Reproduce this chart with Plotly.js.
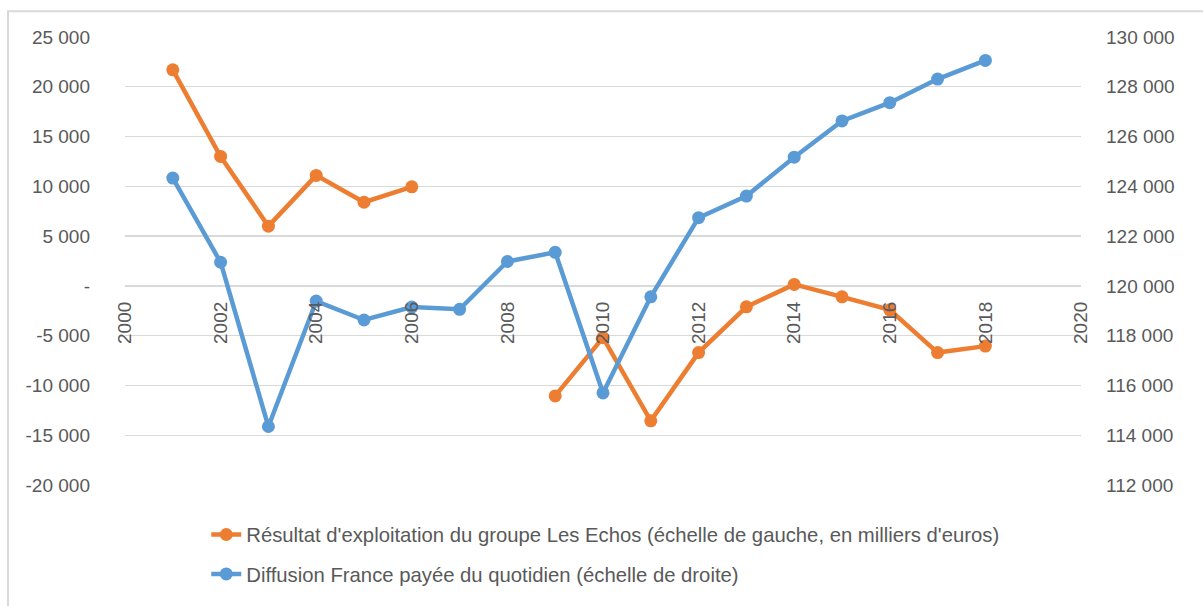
<!DOCTYPE html>
<html>
<head>
<meta charset="utf-8">
<script src="https://cdn.plot.ly/plotly-3.0.1.min.js"></script>
<style>
  html, body { margin: 0; padding: 0; background: #ffffff; }
  #chart { width: 1203px; height: 606px; }
</style>
</head>
<body>
<div id="chart"></div>
<script>
// Years (x axis)
const years = [2001, 2002, 2003, 2004, 2005, 2006, 2007, 2008, 2009, 2010,
               2011, 2012, 2013, 2014, 2015, 2016, 2017, 2018];

// Résultat d'exploitation (left axis, thousands of euros); null = no data
const resultat = [21700, 13000, 6000, 11100, 8400, 9950, null, null, -11050, -5200,
                  -13550, -6700, -2100, 150, -1100, -2400, -6700, -6050];

// Diffusion France payée (right axis)
const diffusion = [124330, 120950, 114350, 119390, 118630, 119150, 119060, 120980, 121350, 115700,
                   119560, 122740, 123610, 125170, 126630, 127360, 128310, 129060];

// Series names
const nameResultat = "Résultat d'exploitation du groupe Les Echos (échelle de gauche, en milliers d'euros)";
const nameDiffusion = "Diffusion France payée du quotidien (échelle de droite)";

// Tick values / labels
const leftTickVals = [-20000, -15000, -10000, -5000, 0, 5000, 10000, 15000, 20000, 25000];
const leftTickText = ["-20 000", "-15 000", "-10 000", "-5 000", "-", "5 000", "10 000", "15 000", "20 000", "25 000"];
const rightTickVals = [112000, 114000, 116000, 118000, 120000, 122000, 124000, 126000, 128000, 130000];
const rightTickText = ["112 000", "114 000", "116 000", "118 000", "120 000", "122 000", "124 000", "126 000", "128 000", "130 000"];
const xTickVals = [2000, 2002, 2004, 2006, 2008, 2010, 2012, 2014, 2016, 2018, 2020];

const leftRange = [-20000, 25000];
const rightRange = [112000, 130000];

const FONT = "'Liberation Sans', Arial, sans-serif";
const TXT = "#595959";
const ORANGE = "#ED7D31";
const BLUE = "#5B9BD5";

const traces = [
  {
    x: years, y: resultat, name: nameResultat, type: 'scatter', mode: 'lines+markers',
    yaxis: 'y', connectgaps: false, legendgroup: 'a',
    line: { color: ORANGE, width: 4.5 },
    marker: { color: ORANGE, size: 13 }
  },
  {
    x: years, y: diffusion, name: nameDiffusion, type: 'scatter', mode: 'lines+markers',
    yaxis: 'y2', legendgroup: 'b',
    line: { color: BLUE, width: 4.5 },
    marker: { color: BLUE, size: 13 }
  }
];

const zeroPos = (0 - leftRange[0]) / (leftRange[1] - leftRange[0]);

const layout = {
  width: 1203, height: 606,
  margin: { l: 125, r: 122, t: 37, b: 117 },
  paper_bgcolor: '#ffffff', plot_bgcolor: '#ffffff',
  font: { family: FONT, color: TXT, size: 19 },
  showlegend: true,
  legend: {
    x: 0.085, y: -0.0665, xanchor: 'left', yanchor: 'top',
    orientation: 'v', traceorder: 'grouped', tracegroupgap: 10,
    font: { family: FONT, color: TXT, size: 20.3 },
    bgcolor: 'rgba(0,0,0,0)', itemclick: false
  },
  xaxis: {
    range: [2000, 2020], tickvals: xTickVals, tickangle: -90,
    anchor: 'free', position: zeroPos,
    showgrid: false, zeroline: false, showline: false, ticks: '',
    tickfont: { family: FONT, color: TXT, size: 19 },
    ticklabelstandoff: 11
  },
  yaxis: {
    range: leftRange, tickvals: leftTickVals, ticktext: leftTickText,
    showgrid: true, gridcolor: '#d9d9d9', gridwidth: 1.3,
    zeroline: false, showline: false, ticks: '',
    tickfont: { family: FONT, color: TXT, size: 19 },
    ticklabelstandoff: 34
  },
  yaxis2: {
    range: rightRange, tickvals: rightTickVals, ticktext: rightTickText,
    overlaying: 'y', side: 'right', anchor: 'x',
    showgrid: false, zeroline: false, showline: false, ticks: '',
    tickfont: { family: FONT, color: TXT, size: 19 },
    ticklabelstandoff: 24
  },
  shapes: [
    {
      type: 'rect', xref: 'paper', yref: 'paper',
      x0: (8 - 125) / 956, x1: (1220 - 125) / 956,
      y0: (489 - 620) / 452, y1: (489 - 11) / 452,
      line: { color: '#d9d9d9', width: 2 }, fillcolor: 'rgba(0,0,0,0)', layer: 'below'
    }
  ]
};

Plotly.newPlot('chart', traces, layout, { displayModeBar: false, staticPlot: true });
</script>
</body>
</html>
